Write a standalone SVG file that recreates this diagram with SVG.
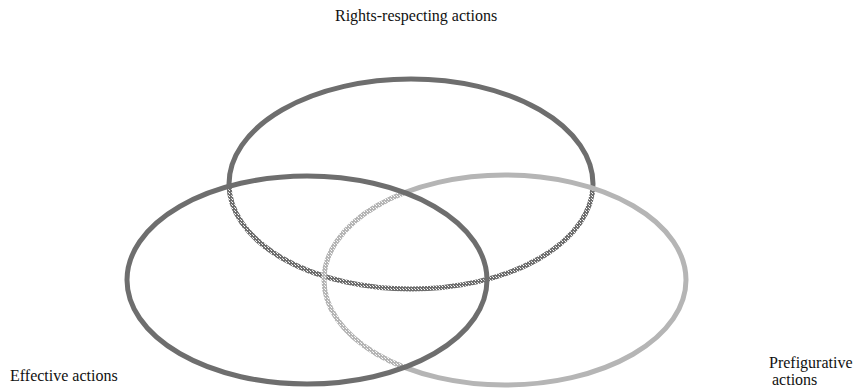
<svg xmlns="http://www.w3.org/2000/svg" width="855" height="390" viewBox="0 0 855 390">
<style>
.lbl{font-family:"Liberation Serif","Times New Roman",serif;font-size:16px;fill:#111}
.ell{fill:none;stroke-width:5}
.dark{stroke:#6e6e6e}
.light{stroke:#b5b5b5}
.dkdot{stroke:url(#dkpat)}
.ltdot{stroke:url(#ltpat)}
</style>
<defs>
<pattern id="dkpat" width="3" height="3" patternUnits="userSpaceOnUse"><rect width="3" height="3" fill="#6e6e6e"/><rect x="1" y="1" width="1" height="1" fill="#fff"/><rect x="0" y="0" width="1" height="1" fill="#ddd"/></pattern>
<pattern id="ltpat" width="3" height="3" patternUnits="userSpaceOnUse"><rect width="3" height="3" fill="#b5b5b5"/><rect x="1" y="1" width="1" height="1" fill="#fff"/><rect x="0" y="0" width="1" height="1" fill="#eee"/></pattern>
<mask id="outLR" maskUnits="userSpaceOnUse" x="0" y="0" width="855" height="390"><rect width="855" height="390" fill="#fff"/><ellipse cx="307" cy="280" rx="180" ry="104" fill="#000"/><ellipse cx="505" cy="280" rx="181" ry="105" fill="#000"/></mask>
<mask id="inLR" maskUnits="userSpaceOnUse" x="0" y="0" width="855" height="390"><ellipse cx="307" cy="280" rx="180" ry="104" fill="#fff"/><ellipse cx="505" cy="280" rx="181" ry="105" fill="#fff"/></mask>
<mask id="outL" maskUnits="userSpaceOnUse" x="0" y="0" width="855" height="390"><rect width="855" height="390" fill="#fff"/><ellipse cx="307" cy="280" rx="180" ry="104" fill="#000"/></mask>
<mask id="inL" maskUnits="userSpaceOnUse" x="0" y="0" width="855" height="390"><ellipse cx="307" cy="280" rx="180" ry="104" fill="#fff"/></mask>
</defs>
<g id="connectors"></g>
<g id="rights">
<ellipse class="ell dark" cx="411" cy="184" rx="182" ry="105" mask="url(#outLR)"/>
<ellipse class="ell dkdot" cx="411" cy="184" rx="182" ry="105" mask="url(#inLR)"/>
<text class="lbl" x="335" y="21">Rights-respecting actions</text>
</g>
<g id="prefigurative">
<ellipse class="ell light" cx="505" cy="280" rx="181" ry="105" mask="url(#outL)"/>
<ellipse class="ell ltdot" cx="505" cy="280" rx="181" ry="105" mask="url(#inL)"/>
<text class="lbl" x="769" y="368">Prefigurative</text>
<text class="lbl" x="772" y="385">actions</text>
</g>
<g id="effective">
<ellipse class="ell dark" cx="307" cy="280" rx="180" ry="104"/>
<text class="lbl" x="10" y="381">Effective actions</text>
</g>
</svg>
